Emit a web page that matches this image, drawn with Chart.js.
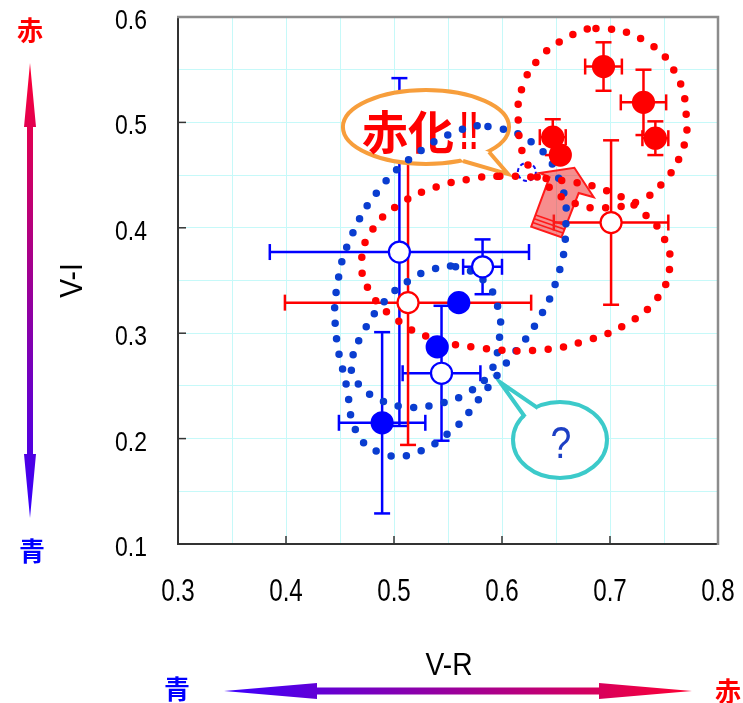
<!DOCTYPE html>
<html>
<head>
<meta charset="utf-8">
<script src="https://cdn.jsdelivr.net/npm/chart.js@4"></script>
<style>
  html, body { margin: 0; padding: 0; background: #fff; }
  #wrap { width: 743px; height: 703px; position: relative; }
</style>
</head>
<body>
<div id="wrap"><canvas id="c" width="743" height="703"></canvas></div>
<script>
// ---- axis ticks ----
const vrTickLabels = ['0.3', '0.4', '0.5', '0.6', '0.7', '0.8'];
const viTickLabels = ['0.1', '0.2', '0.3', '0.4', '0.5', '0.6'];
const vrGrid = [0.3, 0.35, 0.4, 0.45, 0.5, 0.55, 0.6, 0.65, 0.7, 0.75, 0.8];
const viGrid = [0.1, 0.15, 0.2, 0.25, 0.3, 0.35, 0.4, 0.45, 0.5, 0.55, 0.6];
const vrTitle = 'V-R';
const viTitle = 'V-I';

// ---- blue group (open / filled) ----
const blueOpenVR = [0.505, 0.582, 0.544];
const blueOpenVI = [0.377, 0.363, 0.262];
const blueOpenErrVR = [0.120, 0.018, 0.036];
const blueOpenErrVI = [0.165, 0.026, 0.064];

const blueFilledVR = [0.560, 0.540, 0.489];
const blueFilledVI = [0.329, 0.287, 0.215];
const blueFilledErrVR = [0, 0, 0.040];
const blueFilledErrVI = [0, 0, 0.086];

// ---- red group (open / filled) ----
const redOpenVR = [0.513, 0.701];
const redOpenVI = [0.329, 0.405];
const redOpenErrVR = [0.114, 0.053];
const redOpenErrVI = [0.135, 0.078];

const redFilledVR = [0.694, 0.731, 0.742, 0.647, 0.654];
const redFilledVI = [0.553, 0.519, 0.485, 0.486, 0.469];
const redFilledErrVR = [0.017, 0.021, 0.012, 0.012, 0];
const redFilledErrVI = [0.023, 0.031, 0.016, 0.017, 0];

// ---- dotted outlines around the groups, [V-R, V-I] ----
const blueOuterLoop = [[0.587,0.496],[0.629,0.480],[0.654,0.443],[0.659,0.398],[0.651,0.352],[0.632,0.310],[0.605,0.273],[0.576,0.234],[0.556,0.210],[0.519,0.186],[0.489,0.186],[0.466,0.205],[0.456,0.250],[0.446,0.303],[0.448,0.349],[0.461,0.393],[0.486,0.436],[0.518,0.468],[0.557,0.491]];
const blueInnerLoop = [[0.557,0.363],[0.583,0.350],[0.597,0.321],[0.597,0.291],[0.589,0.263],[0.569,0.244],[0.541,0.233],[0.512,0.230],[0.483,0.239],[0.464,0.256],[0.461,0.273],[0.470,0.298],[0.491,0.330],[0.514,0.350],[0.537,0.361]];
const redLowerLoop = [[0.598,0.449],[0.654,0.445],[0.700,0.434],[0.732,0.413],[0.751,0.388],[0.755,0.360],[0.742,0.331],[0.714,0.308],[0.681,0.294],[0.635,0.284],[0.580,0.286],[0.533,0.296],[0.501,0.314],[0.478,0.339],[0.470,0.368],[0.480,0.398],[0.506,0.423],[0.540,0.439],[0.569,0.446]];
const redUpperLoop = [[0.687,0.589],[0.731,0.578],[0.761,0.546],[0.771,0.500],[0.766,0.471],[0.750,0.444],[0.728,0.426],[0.695,0.419],[0.668,0.423],[0.643,0.439],[0.622,0.464],[0.615,0.503],[0.619,0.534],[0.634,0.560],[0.658,0.579]];

// ---- callouts, in data units ----
const burstBubble = { center: [0.5296, 0.4956], rx: 0.0769, ry: 0.0351,
  tail: [[0.5639, 0.4634], [0.6056, 0.4510], [0.5880, 0.4719]] };
const queryBubble = { center: [0.6537, 0.1987], rx: 0.0435, ry: 0.0361,
  tail: [[0.6333, 0.2290], [0.5981, 0.2537], [0.6213, 0.2205]] };
const shiftArrow = [[0.627,0.401],[0.644,0.448],[0.635,0.452],[0.667,0.457],[0.685,0.429],[0.671,0.433],[0.655,0.391]];
const earlierPosition = [0.623, 0.453];

const SANS = "'Liberation Sans', Arial, sans-serif";
const CJK = "'Noto Sans CJK JP', 'Noto Sans CJK SC', sans-serif";
const BLUE = '#0000ff', RED = '#ff0000', DOT_BLUE = '#0a3dd0';

const pts = (xs, ys) => xs.map((v, i) => ({ x: v, y: ys[i] }));
const loopPts = (arr) => arr.map(p => ({ x: p[0], y: p[1] }));

function markerSet(label, xs, ys, ex, ey, color, filled) {
  return {
    label, data: pts(xs, ys), errX: ex, errY: ey, errColor: color,
    pointRadius: 10.5, pointHoverRadius: 10.5, pointBorderWidth: 2.2,
    pointBackgroundColor: filled ? color : '#ffffff', pointBorderColor: color,
    showLine: false, order: 0
  };
}
function loopSet(label, arr, color) {
  return {
    label, data: loopPts(arr), closed: true, showLine: true, spanGaps: true,
    pointRadius: 0, pointHoverRadius: 0, borderColor: color, borderWidth: 7.5,
    borderDash: [0, 15.5], borderCapStyle: 'round', tension: 0.45, fill: false, order: 5
  };
}

function line(ctx, x1, y1, x2, y2) { ctx.beginPath(); ctx.moveTo(x1, y1); ctx.lineTo(x2, y2); ctx.stroke(); }

// condensed text: horizontal squeeze of a regular face
function narrowText(ctx, text, x, y, size, squeeze, align, rot, weight) {
  ctx.save();
  ctx.translate(x, y);
  if (rot) ctx.rotate(rot);
  ctx.scale(squeeze, 1);
  ctx.font = (weight ? weight + ' ' : '') + size + 'px ' + SANS;
  ctx.textAlign = align; ctx.textBaseline = 'alphabetic';
  ctx.fillText(text, 0, 0);
  ctx.restore();
}

function gradArrow(ctx, x1, y1, x2, y2, head, headHalf, shaftHalf, c1, c2) {
  const len = Math.hypot(x2 - x1, y2 - y1), ang = Math.atan2(y2 - y1, x2 - x1);
  ctx.save(); ctx.translate(x1, y1); ctx.rotate(ang);
  const g = ctx.createLinearGradient(0, 0, len, 0);
  g.addColorStop(0, c1); g.addColorStop(1, c2);
  ctx.fillStyle = g;
  ctx.beginPath();
  ctx.moveTo(0, 0); ctx.lineTo(head, -headHalf); ctx.lineTo(head, -shaftHalf);
  ctx.lineTo(len - head, -shaftHalf); ctx.lineTo(len - head, -headHalf); ctx.lineTo(len, 0);
  ctx.lineTo(len - head, headHalf); ctx.lineTo(len - head, shaftHalf);
  ctx.lineTo(head, shaftHalf); ctx.lineTo(head, headHalf); ctx.closePath(); ctx.fill();
  ctx.restore();
}

function drawBubble(chart, b, stroke) {
  const { ctx } = chart, { x, y } = chart.scales;
  const cx = x.getPixelForValue(b.center[0]), cy = y.getPixelForValue(b.center[1]);
  const rx = x.getPixelForValue(b.center[0] + b.rx) - cx;
  const ry = cy - y.getPixelForValue(b.center[1] + b.ry);
  const t = b.tail.map(p => [x.getPixelForValue(p[0]), y.getPixelForValue(p[1])]);
  ctx.save();
  ctx.lineWidth = 4; ctx.strokeStyle = stroke; ctx.fillStyle = '#ffffff';
  ctx.beginPath(); ctx.ellipse(cx, cy, rx, ry, 0, 0, Math.PI * 2); ctx.fill(); ctx.stroke();
  const inward = (p) => { const dx = cx - p[0], dy = cy - p[1], d = Math.hypot(dx, dy); return [p[0] + dx / d * 5, p[1] + dy / d * 5]; };
  const a0 = inward(t[0]), a2 = inward(t[2]);
  ctx.beginPath(); ctx.moveTo(a0[0], a0[1]); ctx.lineTo(t[0][0], t[0][1]); ctx.lineTo(t[1][0], t[1][1]);
  ctx.lineTo(t[2][0], t[2][1]); ctx.lineTo(a2[0], a2[1]); ctx.closePath(); ctx.fill();
  ctx.lineJoin = 'miter';
  ctx.beginPath(); ctx.moveTo(t[0][0], t[0][1]); ctx.lineTo(t[1][0], t[1][1]); ctx.lineTo(t[2][0], t[2][1]); ctx.stroke();
  ctx.restore();
  return { cx, cy };
}

const overlay = {
  id: 'overlay',
  afterDatasetsUpdate(chart) {
    chart.data.datasets.forEach((ds, i) => {
      if (!ds.closed) return;
      const el = chart.getDatasetMeta(i).dataset;
      if (!el) return;
      el._loop = true; el._fullLoop = true;
      el._pointsUpdated = false; el._segments = undefined; el._path = undefined;
    });
  },
  beforeDatasetsDraw(chart) {
    const { ctx, chartArea: a } = chart, { x, y } = chart.scales;
    // inward tick marks at labelled values
    ctx.save(); ctx.strokeStyle = '#333'; ctx.lineWidth = 1.5;
    vrTickLabels.map(Number).forEach(v => { const p = x.getPixelForValue(v); line(ctx, p, a.bottom, p, a.bottom - 8); });
    viTickLabels.map(Number).forEach(v => { const p = y.getPixelForValue(v); line(ctx, a.left, p, a.left + 8, p); });
    ctx.restore();

    // error bars
    chart.data.datasets.forEach(ds => {
      if (!ds.errX) return;
      ctx.save(); ctx.strokeStyle = ds.errColor; ctx.lineWidth = 2.5; ctx.lineCap = 'butt';
      const cap = 8;
      ds.data.forEach((pt, j) => {
        const cx = x.getPixelForValue(pt.x), cy = y.getPixelForValue(pt.y);
        const ex = ds.errX[j], ey = ds.errY[j];
        if (ex > 0) {
          const l = x.getPixelForValue(pt.x - ex), r = x.getPixelForValue(pt.x + ex);
          line(ctx, l, cy, r, cy); line(ctx, l, cy - cap, l, cy + cap); line(ctx, r, cy - cap, r, cy + cap);
        }
        if (ey > 0) {
          const t = y.getPixelForValue(pt.y + ey), b = y.getPixelForValue(pt.y - ey);
          line(ctx, cx, t, cx, b); line(ctx, cx - cap, t, cx + cap, t); line(ctx, cx - cap, b, cx + cap, b);
        }
      });
      ctx.restore();
    });

    // shift arrow
    const P = shiftArrow.map(p => [x.getPixelForValue(p[0]), y.getPixelForValue(p[1])]);
    ctx.save();
    ctx.beginPath(); P.forEach((p, i) => i ? ctx.lineTo(p[0], p[1]) : ctx.moveTo(p[0], p[1])); ctx.closePath();
    ctx.fillStyle = 'rgba(238, 50, 50, 0.55)'; ctx.fill();
    ctx.strokeStyle = '#ff1a1a'; ctx.lineWidth = 2; ctx.lineJoin = 'miter'; ctx.stroke();
    const A = P[0], B = P[6];
    const mTop = [(P[1][0] + P[5][0]) / 2, (P[1][1] + P[5][1]) / 2], mBot = [(A[0] + B[0]) / 2, (A[1] + B[1]) / 2];
    const d = Math.hypot(mTop[0] - mBot[0], mTop[1] - mBot[1]);
    const u = [(mTop[0] - mBot[0]) / d, (mTop[1] - mBot[1]) / d];
    ctx.lineWidth = 1.6;
    [4.5, 8.5, 12.5].forEach(k => line(ctx, A[0] + u[0] * k, A[1] + u[1] * k, B[0] + u[0] * k, B[1] + u[1] * k));
    ctx.restore();

    // dashed ring at the earlier position
    ctx.save();
    ctx.strokeStyle = '#1010ee'; ctx.lineWidth = 2; ctx.setLineDash([4, 3]);
    ctx.beginPath(); ctx.arc(x.getPixelForValue(earlierPosition[0]), y.getPixelForValue(earlierPosition[1]), 9, 0, Math.PI * 2); ctx.stroke();
    ctx.restore();

    // callouts
    const c1 = drawBubble(chart, burstBubble, '#f79e3c');
    ctx.save();
    ctx.fillStyle = RED; ctx.textBaseline = 'middle'; ctx.textAlign = 'center';
    ctx.font = "bold 46px " + CJK;
    ctx.fillText('赤化', c1.cx - 18, c1.cy + 4);
    narrowText(ctx, '!!', c1.cx + 43, c1.cy + 22, 54, 0.52, 'center', 0, 'bold');
    ctx.restore();

    const c2 = drawBubble(chart, queryBubble, '#3ccaca');
    ctx.save(); ctx.fillStyle = '#1c3fc4';
    narrowText(ctx, '?', c2.cx + 1, c2.cy + 18, 44, 0.85, 'center');
    ctx.restore();
  },
  afterDraw(chart) {
    const { ctx, chartArea: a } = chart, { x, y } = chart.scales;
    // top / right frame
    ctx.save(); ctx.strokeStyle = '#8c8c8c'; ctx.lineWidth = 2.5;
    ctx.beginPath(); ctx.moveTo(a.left - 1, a.top); ctx.lineTo(a.right, a.top); ctx.lineTo(a.right, a.bottom + 1); ctx.stroke();
    ctx.restore();

    // tick labels and axis titles (condensed face)
    ctx.save(); ctx.fillStyle = '#000';
    vrTickLabels.forEach(l => narrowText(ctx, l, x.getPixelForValue(Number(l)), a.bottom + 57, 31, 0.78, 'center'));
    viTickLabels.forEach(l => narrowText(ctx, l, a.left - 31, y.getPixelForValue(Number(l)) + 12, 28, 0.82, 'right'));
    narrowText(ctx, vrTitle, (a.left + a.right) / 2 + 1, 674.5, 32, 0.88, 'center');
    narrowText(ctx, viTitle, 81.5, (a.top + a.bottom) / 2, 32, 0.88, 'center', -Math.PI / 2);
    ctx.restore();

    // colour-direction arrows beside the axes
    gradArrow(ctx, 30, 518, 30, 63, 64, 6, 3, '#3300ff', '#ff0033');
    gradArrow(ctx, 224, 691, 692, 691, 93, 8, 3.5, '#3a00ff', '#ff0033');
    ctx.save();
    ctx.font = "bold 26px " + CJK; ctx.textAlign = 'center'; ctx.textBaseline = 'middle';
    ctx.fillStyle = RED; ctx.fillText('赤', 30, 30); ctx.fillText('赤', 728, 691);
    ctx.fillStyle = BLUE; ctx.fillText('青', 32, 551); ctx.fillText('青', 177, 689);
    ctx.restore();
  }
};

new Chart(document.getElementById('c'), {
  type: 'scatter',
  data: {
    datasets: [
      markerSet('青 (open)', blueOpenVR, blueOpenVI, blueOpenErrVR, blueOpenErrVI, BLUE, false),
      markerSet('青', blueFilledVR, blueFilledVI, blueFilledErrVR, blueFilledErrVI, BLUE, true),
      markerSet('赤 (open)', redOpenVR, redOpenVI, redOpenErrVR, redOpenErrVI, RED, false),
      markerSet('赤', redFilledVR, redFilledVI, redFilledErrVR, redFilledErrVI, RED, true),
      loopSet('red lower', redLowerLoop, RED),
      loopSet('red upper', redUpperLoop, RED),
      loopSet('blue outer', blueOuterLoop, DOT_BLUE),
      loopSet('blue inner', blueInnerLoop, DOT_BLUE)
    ]
  },
  options: {
    responsive: false,
    animation: false,
    devicePixelRatio: 1,
    layout: { padding: { top: 17, right: 25, left: 0, bottom: 0 } },
    plugins: { legend: { display: false }, tooltip: { enabled: false } },
    events: [],
    scales: {
      x: {
        type: 'linear', min: 0.3, max: 0.8,
        afterBuildTicks: (s) => { s.ticks = vrGrid.map(v => ({ value: v })); },
        afterFit: (s) => { s.height = 159; s.paddingLeft = 0; s.paddingRight = 0; },
        ticks: { display: false },
        grid: { color: '#c6f9f9', lineWidth: 1, drawTicks: false },
        border: { color: '#333', width: 2 }
      },
      y: {
        type: 'linear', min: 0.1, max: 0.6,
        afterBuildTicks: (s) => { s.ticks = viGrid.map(v => ({ value: v })); },
        afterFit: (s) => { s.width = 178; s.paddingTop = 0; s.paddingBottom = 0; },
        ticks: { display: false },
        grid: { color: '#c6f9f9', lineWidth: 1, drawTicks: false },
        border: { color: '#333', width: 2 }
      }
    }
  },
  plugins: [overlay]
});
</script>
</body>
</html>
